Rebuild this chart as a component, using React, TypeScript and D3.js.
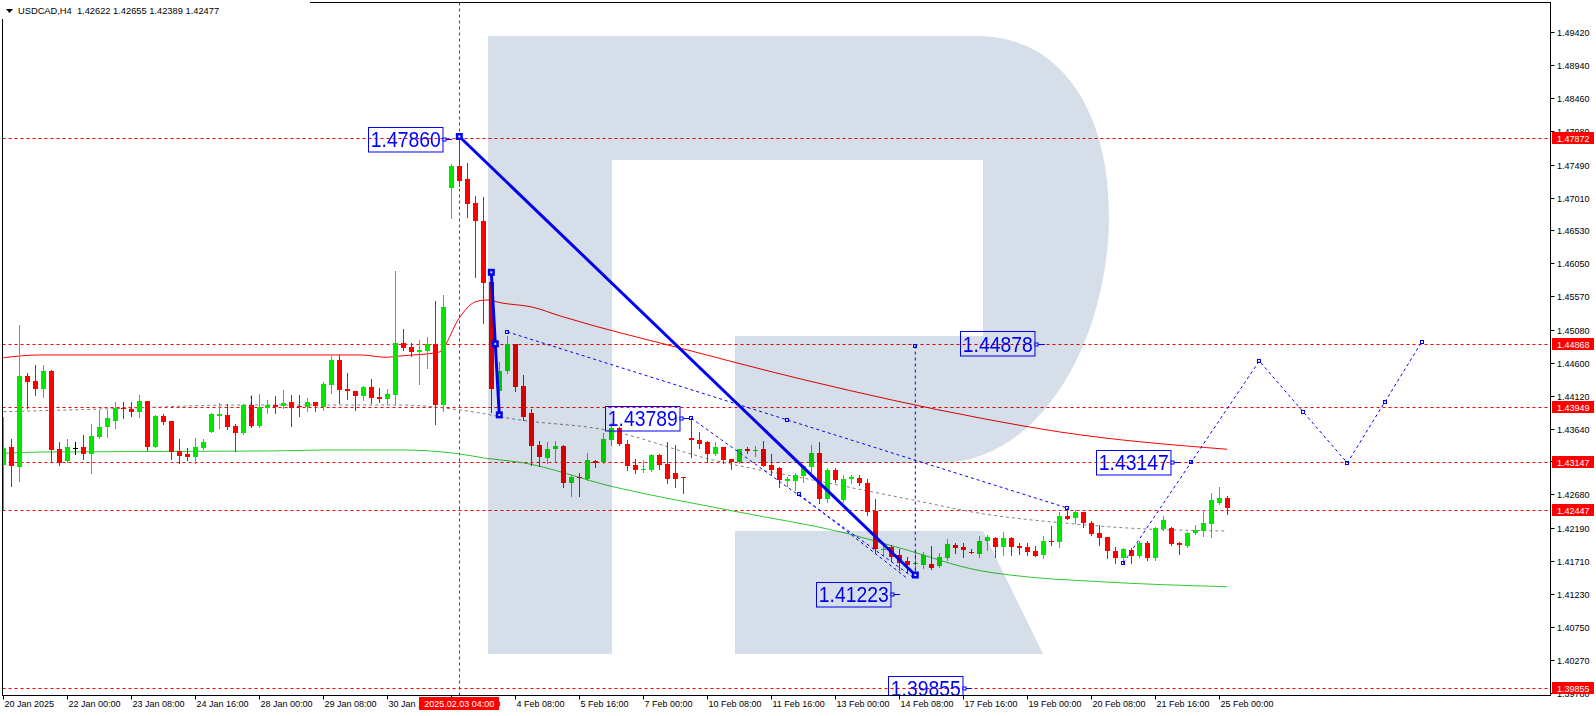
import React from "react";
import * as d3 from "d3";

// ---------- DATA ----------
const open = [
  1.43108,1.43375,1.43083,1.44406,1.44333,1.44216,1.44479,1.43336,1.43166,1.43351,
  1.43366,1.43268,1.43522,1.43658,1.43754,1.43944,1.43925,1.43885,1.44041,1.43375,
  1.43823,1.43750,1.43312,1.43264,1.43229,1.43356,1.43594,1.43827,1.43837,1.43677,
  1.43570,1.43983,1.43681,1.43944,1.43983,1.43973,1.44022,1.43973,1.43958,1.44022,
  1.43958,1.44275,1.44640,1.44216,1.44187,1.44114,1.44250,1.44104,1.44070,1.44129,
  1.44883,1.44825,1.44762,1.44772,1.44873,1.43983,1.47154,1.47474,1.47280,1.46925,
  1.46672,1.45782,1.44192,1.44479,1.44868,1.44265,1.43862,1.43400,1.43210,1.43346,
  1.43390,1.42850,1.42933,1.42904,1.43166,1.43146,1.43478,1.43643,1.43414,1.43108,
  1.43035,1.43035,1.43254,1.43122,1.42987,1.42933,1.43500,1.43468,1.43448,1.43268,
  1.43366,1.43195,1.43156,1.43341,1.43317,1.43341,1.43108,1.43069,1.42875,1.42875,
  1.42952,1.43074,1.43278,1.42611,1.43035,1.42597,1.42904,1.42924,1.42850,1.42441,
  1.41867,1.41906,1.41789,1.41701,1.41663,1.41653,1.41667,1.41629,1.41755,1.41940,
  1.41911,1.41843,1.41809,1.42003,1.42047,1.41906,1.42047,1.41926,1.41906,1.41857,
  1.41794,1.42000,1.41979,1.42368,1.42329,1.42416,1.42265,1.42110,1.42052,1.41857,
  1.41755,1.41867,1.41779,1.41974,1.41747,1.42174,1.42184,1.41974,1.41930,1.42110,
  1.42149,1.42242,1.42553,1.42622,
];
const high = [
  1.43812,1.43487,1.45150,1.44450,1.44567,1.44567,1.44494,1.43448,1.43487,1.43439,
  1.43545,1.43706,1.43910,1.43910,1.44022,1.44031,1.44031,1.44129,1.44045,1.43830,
  1.43847,1.43755,1.43487,1.43351,1.43508,1.43487,1.43871,1.44017,1.43993,1.43706,
  1.43993,1.44118,1.44144,1.44056,1.44118,1.44202,1.44129,1.44129,1.44080,1.44027,
  1.44323,1.44702,1.44713,1.44455,1.44192,1.44255,1.44362,1.44235,1.44216,1.45938,
  1.45092,1.44883,1.44932,1.44971,1.45505,1.45588,1.47499,1.47900,1.47518,1.47032,
  1.47013,1.45856,1.44615,1.44995,1.44873,1.44421,1.43920,1.43458,1.43439,1.43453,
  1.43395,1.42962,1.42996,1.43288,1.43181,1.43570,1.43716,1.43667,1.43473,1.43195,
  1.43181,1.43268,1.43268,1.43439,1.43400,1.42938,1.43789,1.43594,1.43453,1.43439,
  1.43375,1.43200,1.43346,1.43375,1.43390,1.43458,1.43268,1.43083,1.42938,1.42987,
  1.43108,1.43400,1.43439,1.43059,1.43059,1.42962,1.42962,1.42962,1.42899,1.42616,
  1.41969,1.41940,1.41877,1.41765,1.41867,1.41838,1.41920,1.41823,1.42023,1.41974,
  1.41974,1.41882,1.42071,1.42086,1.42052,1.42134,1.42052,1.41974,1.41974,1.41926,
  1.42071,1.42218,1.42416,1.42485,1.42451,1.42426,1.42290,1.42232,1.42052,1.41906,
  1.41892,1.41892,1.42003,1.42003,1.42208,1.42363,1.42208,1.41989,1.42134,1.42232,
  1.42451,1.42695,1.42782,1.42655,
];
const low = [
  1.42466,1.42801,1.42879,1.43939,1.44129,1.44104,1.43156,1.43108,1.43156,1.43268,
  1.43195,1.42995,1.43508,1.43522,1.43654,1.43798,1.43827,1.43812,1.43327,1.43366,
  1.43706,1.43195,1.43141,1.43181,1.43141,1.43336,1.43585,1.43643,1.43633,1.43317,
  1.43556,1.43658,1.43667,1.43871,1.43871,1.43934,1.43681,1.43827,1.43900,1.43900,
  1.43910,1.44163,1.44007,1.44070,1.43910,1.44056,1.44007,1.44022,1.43993,1.43993,
  1.44787,1.44703,1.44290,1.44524,1.43701,1.43900,1.46707,1.47180,1.46726,1.45856,
  1.45183,1.43885,1.44163,1.44450,1.44180,1.43764,1.43108,1.43093,1.43132,1.43166,
  1.42792,1.42660,1.42660,1.42889,1.43083,1.43132,1.43400,1.43400,1.43035,1.42987,
  1.43001,1.43021,1.43045,1.42850,1.42792,1.42704,1.43225,1.43351,1.43156,1.43254,
  1.43141,1.43045,1.43141,1.43288,1.43239,1.43088,1.42977,1.42782,1.42806,1.42743,
  1.42865,1.43011,1.42548,1.42568,1.42865,1.42573,1.42850,1.42821,1.42383,1.41833,
  1.41794,1.41711,1.41575,1.41546,1.41503,1.41599,1.41594,1.41614,1.41725,1.41828,
  1.41760,1.41818,1.41769,1.41867,1.41769,1.41794,1.41794,1.41809,1.41794,1.41784,
  1.41755,1.41940,1.41906,1.42319,1.42256,1.42207,1.42080,1.41940,1.41747,1.41672,
  1.41672,1.41672,1.41760,1.41721,1.41721,1.42159,1.41940,1.41809,1.41916,1.42096,
  1.42072,1.42062,1.42534,1.42389,
];
const close = [
  1.43351,1.43093,1.44406,1.44323,1.44216,1.44479,1.43327,1.43141,1.43366,1.43351,
  1.43268,1.43531,1.43658,1.43789,1.43944,1.43920,1.43885,1.44041,1.43375,1.43823,
  1.43739,1.43302,1.43244,1.43229,1.43366,1.43448,1.43847,1.43847,1.43667,1.43570,
  1.43983,1.43681,1.43958,1.43983,1.43949,1.44007,1.43944,1.43958,1.44022,1.43973,
  1.44289,1.44640,1.44202,1.44192,1.44114,1.44250,1.44085,1.44075,1.44143,1.44883,
  1.44820,1.44757,1.44786,1.44868,1.43983,1.45417,1.47474,1.47251,1.46915,1.46672,
  1.45767,1.44212,1.44479,1.44868,1.44241,1.43812,1.43390,1.43220,1.43346,1.43390,
  1.42850,1.42928,1.42914,1.43181,1.43132,1.43482,1.43643,1.43410,1.43093,1.43035,
  1.43050,1.43254,1.43108,1.42904,1.42904,1.42914,1.43473,1.43414,1.43268,1.43366,
  1.43181,1.43156,1.43336,1.43312,1.43331,1.43093,1.43035,1.42889,1.42899,1.42962,
  1.43093,1.43278,1.42611,1.43035,1.42889,1.42904,1.42928,1.42850,1.42427,1.41882,
  1.41882,1.41760,1.41672,1.41653,1.41672,1.41789,1.41609,1.41765,1.41950,1.41901,
  1.41867,1.41823,1.42003,1.42062,1.41906,1.42047,1.41906,1.41892,1.41843,1.41784,
  1.42000,1.41979,1.42368,1.42324,1.42426,1.42265,1.42100,1.42047,1.41857,1.41747,
  1.41877,1.41779,1.41974,1.41747,1.42184,1.42305,1.41950,1.41940,1.42120,1.42159,
  1.42256,1.42597,1.42626,1.42477,
];

// time axis labels, one every 8 bars starting at bar 0
const timeLabels = [
  "20 Jan 2025", "22 Jan 00:00", "23 Jan 08:00", "24 Jan 16:00", "28 Jan 00:00",
  "29 Jan 08:00", "30 Jan 16:00", "3 Feb 00:00", "4 Feb 08:00", "5 Feb 16:00",
  "7 Feb 00:00", "10 Feb 08:00", "11 Feb 16:00", "13 Feb 00:00", "14 Feb 08:00",
  "17 Feb 16:00", "19 Feb 00:00", "20 Feb 08:00", "21 Feb 16:00", "25 Feb 00:00",
];
const priceTicks = [
  "1.49420", "1.48940", "1.48460", "1.47980", "1.47490", "1.47010", "1.46530",
  "1.46050", "1.45570", "1.45080", "1.44600", "1.44120", "1.43640", "1.43160",
  "1.42680", "1.42190", "1.41710", "1.41230", "1.40750", "1.40270", "1.39780",
];
const levels = [1.47872, 1.44868, 1.43949, 1.43147, 1.42447, 1.39855];
const crossBar = 57;
const crossLabel = "2025.02.03 04:00";

// indicator lines [bar, price]
const redMA = [
  [0, 1.44673], [4.6, 1.44713], [44.6, 1.44713], [47.9, 1.44679], [49.6, 1.44698],
  [54.4, 1.44752], [57.1, 1.45271], [58.5, 1.45457], [59.6, 1.45505], [60.6, 1.45515],
  [62.1, 1.45476], [66.2, 1.45409], [69.6, 1.45282], [85.5, 1.44786], [100.2, 1.44348],
  [122.1, 1.43793], [132.1, 1.43589], [153, 1.43337],
];
const greenMA = [
  [0, 1.43278], [4.6, 1.43297], [33.3, 1.43312], [40.6, 1.43327], [49.6, 1.43327],
  [56.5, 1.43278], [60.4, 1.43205], [64.6, 1.43147], [76.2, 1.42791], [91.7, 1.42426],
  [105.4, 1.42111], [112.1, 1.41896], [122.1, 1.41566], [125.8, 1.41503],
  [137.1, 1.41405], [153, 1.41332],
];
const greyMA = [
  [0, 1.43885], [15.4, 1.43935], [28.7, 1.43983], [49.6, 1.43983], [57.1, 1.43910],
  [64.6, 1.43764], [75.4, 1.43618], [88.7, 1.43181], [101.2, 1.42889], [113.7, 1.42597],
  [122.1, 1.42403], [132.9, 1.42257], [141.2, 1.42184], [152.7, 1.42145],
];

// drawn analysis objects [bar, price]
const thickMain = [[57, 1.479], [114, 1.41503]];
const thickSmall = [[61, 1.45919], [61.5, 1.44875], [62, 1.43839]];
const dashA = [[63, 1.4505], [98, 1.43765], [133, 1.4248]];
const dashB = [[86, 1.4379], [113.6, 1.4148]];
const dashC = [[99.5, 1.4268], [112.8, 1.4147]];
const vertD = [[114, 1.4485], [114, 1.41503]];
const tinyVert = [[31, 1.4412], [31, 1.4366]];
const projection = [[140, 1.41678], [157, 1.44625], [168, 1.43137], [177.3, 1.44902]];

// text labels: value and anchor bar (end of connector)
const labelValues = ["1.47860", "1.43789", "1.44878", "1.43147", "1.41223", "1.39855"];
const labelAnchors = [56.1, 85.8, 130.2, 147.1, 112.1, 121.1];

const header = "USDCAD,H4  1.42622 1.42655 1.42389 1.42477";

// ---------- STYLE ----------
const FONT = "'Liberation Sans', Arial, sans-serif";
const GREEN = "#00e600";
const RED = "#ff0000";
const BLUE = "#0000ff";
const W = 1596, H = 716;

export default function App() {
  const x = d3.scaleLinear().domain([0, 153]).range([3.3, 1227.3]);
  const y = d3.scaleLinear().domain([1.4942, 1.3978]).range([32.3, 693.1]);
  const L = 2.5, T = 2.5, R = 1550.5, B = 695.5;

  const line = d3.line<number[]>().x((d) => x(d[0])).y((d) => y(d[1]));
  const smooth = d3
    .line<number[]>()
    .x((d) => x(d[0]))
    .y((d) => y(d[1]))
    .curve(d3.curveMonotoneX);

  const midpoints = (pts: number[][]) => {
    const out: number[][] = [];
    for (let i = 0; i < pts.length - 1; i++) {
      out.push([(pts[i][0] + pts[i + 1][0]) / 2, (pts[i][1] + pts[i + 1][1]) / 2]);
    }
    return out;
  };
  const openSq = (pts: number[][], key: string) =>
    pts.map((p, i) => (
      <rect
        key={key + i}
        x={Math.round(x(p[0])) - 1.5}
        y={Math.round(y(p[1])) - 1.5}
        width={3}
        height={3}
        fill="none"
        stroke={BLUE}
        strokeWidth={1}
      />
    ));
  const solidSq = (pts: number[][], key: string) =>
    pts.map((p, i) => (
      <g key={key + i}>
        <rect x={x(p[0]) - 3.5} y={y(p[1]) - 3.5} width={7} height={7} fill={BLUE} />
        <rect x={x(p[0]) - 1} y={y(p[1]) - 1} width={2} height={2} fill="#fff" />
      </g>
    ));

  const watermarkBowl =
    "M488,36 L977,36 C1060,36 1109,110 1109,215 C1109,340 1040,463 940,463 L735,463 L735,336 L983,336 L983,160 L612,160 L612,654 L488,654 Z";
  const watermarkLeg = "M735,531 L983,531 L1043,654 L735,654 Z";

  return (
    <svg
      width={W}
      height={H}
      style={{ position: "absolute", left: 0, top: 0, background: "#fff" }}
      fontFamily={FONT}
    >
      <defs>
        <clipPath id="plot">
          <rect x={3} y={3} width={R - 3} height={B - 3} />
        </clipPath>
      </defs>
      <rect x={0} y={0} width={W} height={H} fill="#fff" />

      <g clipPath="url(#plot)">
        {/* horizontal levels */}
        {levels.map((v, i) => (
          <line
            key={"lv" + i}
            x1={L}
            x2={R}
            y1={Math.round(y(v)) + 0.5}
            y2={Math.round(y(v)) + 0.5}
            stroke={RED}
            strokeDasharray="3,3"
          />
        ))}
        {/* crosshair vertical */}
        <line
          x1={Math.round(x(crossBar)) + 0.5}
          x2={Math.round(x(crossBar)) + 0.5}
          y1={T}
          y2={B}
          stroke={RED}
          strokeDasharray="3,3"
        />

        {/* moving averages */}
        <path d={smooth(greyMA) || ""} fill="none" stroke="#808080" strokeDasharray="3,3" />
        <path d={smooth(greenMA) || ""} fill="none" stroke="#32c832" strokeWidth={1} />
        <path d={smooth(redMA) || ""} fill="none" stroke="#ff0000" strokeWidth={1} />

        {/* candles */}
        {open.map((o, i) => {
          const c = close[i];
          const cx = Math.round(x(i));
          const col = c > o ? GREEN : c < o ? RED : "#000";
          const yt = Math.round(y(Math.max(o, c)));
          const yb = Math.round(y(Math.min(o, c)));
          return (
            <g key={"c" + i}>
              <line
                x1={cx + 0.5}
                x2={cx + 0.5}
                y1={Math.round(y(high[i]))}
                y2={Math.round(y(low[i])) + 1}
                stroke={col}
              />
              <rect x={cx - 2} y={yt} width={5} height={Math.max(1, yb - yt)} fill={col} />
            </g>
          );
        })}

        {/* thin dashed analysis lines */}
        {[dashA, dashB, dashC, vertD, tinyVert].map((pts, k) => (
          <path
            key={"d" + k}
            d={line(pts) || ""}
            fill="none"
            stroke={BLUE}
            strokeDasharray="3,3"
          />
        ))}
        <path d={line(projection) || ""} fill="none" stroke={BLUE} strokeDasharray="3,3" />
        {openSq(dashA, "ma")}
        {openSq([dashB[0]], "mb")}
        {openSq([dashC[0]], "mc")}
        {openSq([vertD[0]], "md")}
        {openSq(projection, "mp")}
        {openSq(midpoints(projection), "mpm")}

        {/* thick blue lines */}
        <path d={line(thickMain) || ""} fill="none" stroke={BLUE} strokeWidth={3} />
        <path d={line(thickSmall) || ""} fill="none" stroke={BLUE} strokeWidth={3} />
        {solidSq(thickMain, "tm")}
        {solidSq(thickSmall, "ts")}

        {/* price text labels */}
        {labelValues.map((v, i) => {
          const ax = x(labelAnchors[i]);
          const cy = y(parseFloat(v));
          const bw = 74.5, bh = 24.5;
          const bx = Math.round(ax - 10 - bw) + 0.5;
          const by = Math.round(cy - bh / 2) + 0.5;
          return (
            <g key={"lb" + i}>
              <rect x={bx} y={by} width={bw} height={bh} fill="none" stroke={BLUE} />
              <line x1={bx + bw} x2={ax} y1={Math.round(cy) + 0.5} y2={Math.round(cy) + 0.5} stroke={BLUE} />
              <rect x={bx + bw} y={Math.round(cy) - 1} width={3} height={3} fill="#fff" stroke={BLUE} />
              <text
                x={bx + bw / 2}
                y={cy + 8}
                fontSize={22}
                textAnchor="middle"
                fill={BLUE}
                textLength={70}
                lengthAdjust="spacingAndGlyphs"
              >
                {v}
              </text>
            </g>
          );
        })}

        {/* watermark (multiplied over the chart) */}
        <g style={{ mixBlendMode: "multiply" }}>
          <path d={watermarkBowl} fill="#d6deea" />
          <path d={watermarkLeg} fill="#d6deea" />
        </g>
      </g>

      {/* frame */}
      <rect x={L} y={T} width={R - L} height={B - T} fill="none" stroke="#000" />
      {/* header background and text */}
      <rect x={0} y={0} width={310} height={19} fill="#fff" />
      <polygon points="6,9 13,9 9.5,13" fill="#000" />
      <text x={18} y={14} fontSize={9.3} fill="#000" xmlSpace="preserve">
        {header}
      </text>

      {/* price axis */}
      {priceTicks.map((t, i) => {
        const yy = Math.round(y(parseFloat(t))) + 0.5;
        return (
          <g key={"pt" + i}>
            <line x1={R} x2={R + 4} y1={yy} y2={yy} stroke="#000" />
            <text x={1557} y={yy + 3.5} fontSize={9} fill="#000">
              {t}
            </text>
          </g>
        );
      })}
      {levels.map((v, i) => {
        const yy = Math.round(y(v));
        return (
          <g key={"pl" + i}>
            <rect x={1552} y={yy - 6} width={42} height={12} fill={RED} />
            <text x={1557} y={yy + 3.5} fontSize={9} fill="#fff">
              {v.toFixed(5)}
            </text>
          </g>
        );
      })}

      {/* time axis */}
      {timeLabels.map((t, i) => {
        const xx = Math.round(x(i * 8)) + 0.5;
        return (
          <g key={"tl" + i}>
            <line x1={xx} x2={xx} y1={B} y2={B + 4} stroke="#000" />
            <text x={xx + 1} y={707} fontSize={9} fill="#000">
              {t}
            </text>
          </g>
        );
      })}
      <rect x={Math.round(x(crossBar)) - 40} y={697} width={80} height={13} fill={RED} />
      <text x={x(crossBar)} y={707} fontSize={9} fill="#fff" textAnchor="middle">
        {crossLabel}
      </text>
    </svg>
  );
}
